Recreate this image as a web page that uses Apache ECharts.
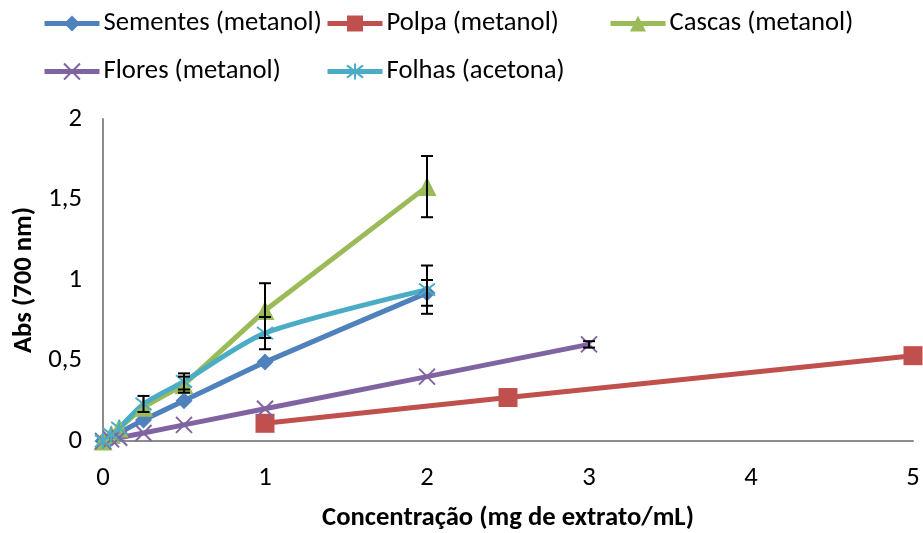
<!DOCTYPE html>
<html><head><meta charset="utf-8">
<script src="https://cdn.jsdelivr.net/npm/echarts@6/dist/echarts.min.js"></script>
<style>html,body{margin:0;padding:0;background:#fff}#c{width:923px;height:533px}</style>
</head><body><div id="c"></div>
<script>
const seriesNames = ['Sementes (metanol)','Polpa (metanol)','Cascas (metanol)','Flores (metanol)','Folhas (acetona)'];
const sementes = [[0,0],[0.05,0.02],[0.1,0.05],[0.25,0.13],[0.5,0.25],[1,0.49],[2,0.92]];
const polpa = [[1,0.11],[2.5,0.27],[5,0.53]];
const cascas = [[0,0],[0.05,0.04],[0.1,0.08],[0.25,0.21],[0.5,0.35],[1,0.81],[2,1.58]];
const flores = [[0,0],[0.05,0.01],[0.1,0.02],[0.25,0.05],[0.5,0.1],[1,0.2],[2,0.4],[3,0.6]];
const folhas = [[0,0],[0.05,0.04],[0.1,0.08],[0.25,0.23],[0.5,0.37],[1,0.67],[2,0.94]];
// error bars: [x, y, err]
const errSementes = [[2,0.92,0.08]];
const errCascas = [[0.5,0.35,0.05],[1,0.81,0.17],[2,1.58,0.19]];
const errFolhas = [[0.25,0.23,0.05],[0.5,0.37,0.05],[1,0.67,0.1],[2,0.94,0.15]];
const errFlores = [[3,0.6,0.02]];
const yTicks = ['0','0,5','1','1,5','2'];

const colors = ['#4F81BD','#C0504D','#9BBB59','#8064A2','#4BACC6'];
const FONT = 'Carlito, "Liberation Sans", sans-serif';
const FS = 26.67;
const xPath = 'path://M0,0L10,10M10,0L0,10';
const astPath = 'path://M0,0L10,10M10,0L0,10M5,-1.5L5,11.5';
const symbols = ['diamond','rect','triangle',xPath,astPath];
const symSizes = [17,19,19,16,16];
const datas = [sementes,polpa,cascas,flores,folhas];

const chart = echarts.init(document.getElementById('c'));
const lineSeries = datas.map((d,i)=>({
  name: seriesNames[i], type:'line', data:d, symbol:symbols[i], symbolSize:symSizes[i],
  smooth: i===4 ? 0.25 : (i===0 ? 0.15 : false),
  lineStyle:{color:colors[i], width:5},
  itemStyle: (i>=3) ? {color:colors[i], borderColor:colors[i], borderWidth:2} : {color:colors[i]},
  showSymbol:true, animation:false, z: 2
}));
function errSeries(d){
  return {type:'custom', data:d, z:10, animation:false, silent:true,
    renderItem:(params, api)=>{
      const x=api.value(0), y=api.value(1), e=api.value(2);
      const t=api.coord([x,y+e]), b=api.coord([x,y-e]);
      const w=6, st={stroke:'#000', lineWidth:2};
      return {type:'group', children:[
        {type:'line', shape:{x1:t[0],y1:t[1],x2:b[0],y2:b[1]}, style:st},
        {type:'line', shape:{x1:t[0]-w,y1:t[1],x2:t[0]+w,y2:t[1]}, style:st},
        {type:'line', shape:{x1:b[0]-w,y1:b[1],x2:b[0]+w,y2:b[1]}, style:st}
      ]};
    }};
}
const legendPos = [[42,10],[325,10],[608,10],[42,58],[325,58]];
const legends = seriesNames.map((n,i)=>({
  data:[n], left:legendPos[i][0], top:legendPos[i][1], itemWidth:55, itemHeight:20, padding:0,
  lineStyle:{width:5},
  textStyle:{fontFamily:FONT, fontSize:FS, color:'#000', padding:[0,0,0,-1]}, selectedMode:false
}));
chart.setOption({
  animation:false,
  textStyle:{fontFamily:FONT},
  legend: legends,
  grid:{left:103, right:10, top:119, bottom:92, containLabel:false, outerBoundsMode:'none'},
  xAxis:{type:'value', min:0, max:5, interval:1,
    name:'Concentração (mg de extrato/mL)', nameLocation:'middle', nameGap:64,
    nameTextStyle:{fontFamily:FONT, fontSize:FS, fontWeight:'bold', color:'#000'},
    axisLine:{lineStyle:{color:'#8c8c8c', width:2}}, axisTick:{show:false},
    axisLabel:{fontFamily:FONT, fontSize:FS, color:'#000', margin:24},
    splitLine:{show:false}},
  yAxis:{type:'value', min:0, max:2, interval:0.5,
    name:'Abs (700 nm)', nameLocation:'middle', nameGap:65, nameRotate:90,
    nameTextStyle:{fontFamily:FONT, fontSize:FS, fontWeight:'bold', color:'#000'},
    axisLine:{show:true, lineStyle:{color:'#8c8c8c', width:2}}, axisTick:{show:false},
    axisLabel:{fontFamily:FONT, fontSize:FS, color:'#000', margin:21,
      formatter:(v)=>yTicks[Math.round(v/0.5)]},
    splitLine:{show:false}},
  series: lineSeries.concat([errSeries(errSementes),errSeries(errCascas),errSeries(errFolhas),errSeries(errFlores)])
});
</script></body></html>
